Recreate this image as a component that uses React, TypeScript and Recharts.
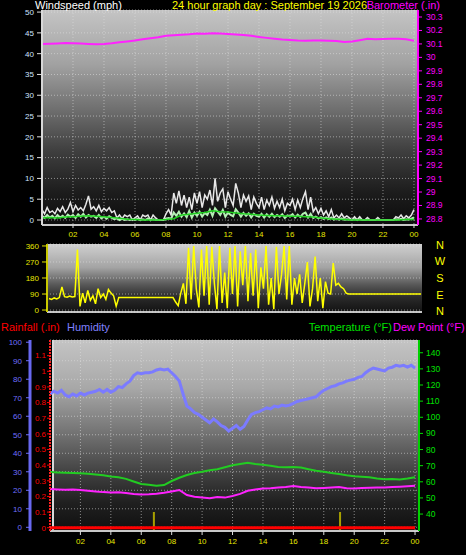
import React from 'react';
import { LineChart, Line, XAxis, YAxis, CartesianGrid } from 'recharts';

// wind, 10 minute samples (mph)
const windGust = [
  2.5, 1.5, 3, 1.8, 2.2, 1.5,
  2.8, 2, 3.2, 1.8, 2.6, 4.2,
  2, 3.5, 2.4, 3, 2.2, 3.8,
  5.8, 2.6, 3.2, 2.2, 3.5, 2,
  2.8, 2.2, 3, 1.8, 2.2, 0.5,
  1.2, 0.3, 1.2, 0.8, 1.2, 0,
  0.5, 1, 0, 1.2, 0.8, 1.2,
  0, 1.2, 0.5, 0, 0, 0,
  1.5, 2.5, 1.2, 6.5, 4, 7,
  3.5, 6, 3, 5.5, 2.5, 6.5,
  4, 6.8, 3, 6, 5, 7.2,
  3.5, 10, 4.5, 6.5, 7.5, 3,
  6.8, 5, 3.5, 8.8, 6.5, 3,
  6, 4.5, 5.8, 2.5, 5.5, 4,
  3, 5.5, 2.5, 4.8, 3.5, 5.5,
  2.8, 4.5, 3, 5, 2.2, 4,
  3.5, 5, 2.5, 4.8, 3, 5.2,
  6.8, 2.5, 5.5, 2, 3, 1.5,
  2.8, 1.2, 2.2, 0.8, 2.5, 0.5,
  1.2, 0.5, 1.5, 0.5, 1, 0.5,
  0, 0.8, 0, 0.8, 0, 0,
  0.6, 0, 0, 0, 0.6, 0,
  0, 0, 0, 0, 0, 0.8,
  0.5, 1.2, 0.3, 1, 0.5, 1.2, 2.5,
];
const windSpeed = [
  1, 0.5, 1.2, 0.6, 1, 0.4,
  1.2, 0.6, 1, 0.5, 1.3, 0.8,
  1.2, 0.5, 1.4, 0.8, 1.5, 0.6,
  1.2, 0.8, 1, 0.5, 1.2, 0.4,
  0.8, 0.3, 0.9, 0.5, 0.2, 0.4,
  0, 0.3, 0, 0.2, 0, 0.2,
  0, 0.3, 0, 0.2, 0, 0.4,
  0, 0.2, 0, 0, 0, 0,
  0.3, 0.5, 0.3, 1.8, 1, 2,
  0.8, 1.6, 0.7, 2.2, 0.6, 1.8,
  1, 2, 0.8, 1.7, 1.2, 2.5,
  1, 2.8, 2, 1.2, 2.4, 0.8,
  1.8, 1.2, 0.9, 2.6, 1.8, 0.8,
  1.7, 1, 1.6, 0.6, 1.5, 1,
  0.8, 1.5, 0.6, 1.4, 0.8, 1.5,
  0.7, 1.2, 0.8, 1.4, 0.5, 1.1,
  0.9, 1.4, 0.6, 1.3, 0.7, 1.5,
  1.8, 0.6, 1.5, 0.5, 0.8, 0.4,
  0.7, 0.3, 0.6, 0.2, 0.6, 0.1,
  0.3, 0.1, 0.4, 0.1, 0.2, 0.1,
  0, 0.2, 0, 0.2, 0, 0,
  0.1, 0, 0, 0, 0.1, 0,
  0, 0, 0, 0, 0, 0.2,
  0.1, 0.3, 0, 0.2, 0.1, 0.3, 0.6,
];
// 30 minute samples
const windAvg = [
  0.5, 0.6, 0.5, 0.7, 0.8, 0.9, 1.0, 0.9, 0.8, 0.6,
  0.4, 0.2, 0.1, 0, 0, 0, 0.1, 0.3,
  1.2, 1.4, 1.6, 1.8, 2.2, 2.0, 1.9, 1.7,
  1.5, 1.4, 1.2, 1.1, 1.0, 1.0, 0.9, 0.9,
  0.8, 0.7, 0.5, 0.3, 0.2, 0.1, 0, 0,
  0, 0, 0, 0, 0, 0.1, 0.1,
];
const barometer = [
  30.100, 30.102, 30.104, 30.106, 30.105, 30.103, 30.100, 30.098, 30.100, 30.105,
  30.112, 30.118, 30.125, 30.135, 30.142, 30.150, 30.160, 30.165, 30.168, 30.172,
  30.178, 30.176, 30.180, 30.178, 30.174, 30.170, 30.166, 30.160, 30.152, 30.145,
  30.138, 30.132, 30.130, 30.126, 30.124, 30.126, 30.125, 30.124, 30.122, 30.114,
  30.118, 30.128, 30.138, 30.135, 30.136, 30.138, 30.138, 30.134, 30.124,
];

// wind direction, 10 minute samples (degrees)
const windDir = [
  65, 60, 68, 62, 70, 130,
  75, 72, 78, 74, 76, 340,
  20, 95, 40, 110, 55, 80,
  35, 120, 70, 90, 60, 115,
  95, 80, 22, 70, 70, 70,
  70, 70, 70, 70, 70, 70,
  70, 70, 70, 70, 70, 70,
  70, 70, 70, 70, 70, 70,
  70, 45, 25, 95, 150, 35,
  350, 60, 360, 120, 15, 340,
  80, 360, 30, 355, 150, 5,
  360, 40, 210, 10, 350, 90,
  360, 20, 330, 140, 360, 50,
  320, 80, 340, 10, 240, 120,
  360, 30, 180, 5, 355, 90,
  200, 360, 60, 360, 30, 180,
  90, 200, 40, 150, 270, 20,
  120, 300, 50, 180, 10, 160,
  95, 90, 264, 140, 150, 130,
  120, 95, 90, 90, 90, 90,
  90, 90, 90, 90, 90, 90,
  90, 90, 90, 90, 90, 90,
  90, 90, 90, 90, 90, 90,
  90, 90, 90, 90, 90, 90, 90,
];

// humidity, 15 minute samples (%)
const humidity = [
  72, 73.5, 72.5, 74, 71.5, 70.5, 72, 71,
  72.5, 71.5, 72.5, 73, 73.5, 74.5, 73, 74.5,
  73, 74, 76, 75.5, 77.5, 79, 82, 83.5,
  83, 83.5, 83.5, 84, 85, 85.5, 85, 85.5,
  83.5, 81.5, 79, 72, 65.5, 64, 62, 61,
  59.5, 58, 56.5, 58.5, 57, 55, 54, 52,
  53.5, 55, 53, 54.5, 58, 61, 62, 62.5,
  63.5, 64.5, 64, 65.5, 65, 66, 65.5, 66,
  67, 68, 68.5, 69, 69.5, 70, 70.5, 72.5,
  74, 75, 76, 76.5, 77.5, 78, 79, 79.5,
  80, 81, 81.5, 83.5, 85, 86, 85.5, 85,
  84.5, 86, 86.5, 87.5, 87, 87.5, 86.5, 87.5,
  86,
];
// temperature and dew point, 30 minute samples (F)
const temperature = [
  66, 65.8, 65.6, 65.5, 65.3, 65, 64.5, 64, 63.3, 62.8,
  61.8, 60.2, 58.6, 58.2, 57.6, 58, 60.5, 62.5, 64.2, 65.5,
  66.2, 67.2, 67.8, 69, 70.2, 71, 71.8, 71, 70.5, 70,
  69.2, 69, 69.2, 68.8, 67.8, 66.8, 66.2, 65.5, 64.8, 64,
  63.5, 63.2, 62.8, 62, 61.6, 61.8, 61.5, 62, 62.8,
];
const dewPoint = [
  55.5, 55.2, 55, 55.2, 54.9, 54.4, 54, 53.6, 53.4, 53.5,
  53, 52.5, 52.2, 52.3, 52.6, 53.2, 54, 54.9, 51.8, 50.8,
  50.3, 49.8, 50.6, 50.2, 51.2, 52.5, 54.4, 55.2, 55.9, 56,
  56.4, 56.8, 57.4, 56.8, 56.5, 56, 56.2, 56.5, 56.8, 56,
  55.9, 56.2, 56.3, 56.5, 56.5, 56.8, 57, 57.2, 57.5,
];
const rainTimes = [0, 24];
const rainfall = [0, 0];
const rainMarkTimes = [6.83, 19.07];
const rainMarkValues = [0.1, 0.1];

const hourTicks = [2, 4, 6, 8, 10, 12, 14, 16, 18, 20, 22, 24];
const windTicks = [0, 5, 10, 15, 20, 25, 30, 35, 40, 45, 50];
const baroTicks = [28.8, 28.9, 29, 29.1, 29.2, 29.3, 29.4, 29.5, 29.6, 29.7, 29.8, 29.9, 30, 30.1, 30.2, 30.3];
const dirTicks = [0, 90, 180, 270, 360];
const humTicks = [0, 10, 20, 30, 40, 50, 60, 70, 80, 90, 100];
const rainTicks = [0, 0.1, 0.2, 0.3, 0.4, 0.5, 0.6, 0.7, 0.8, 0.9, 1, 1.1];
const tempTicks = [40, 50, 60, 70, 80, 90, 100, 110, 120, 130, 140];

const RAIN_FLOOR = -0.021;

const windRows = windGust.map((g, i) => ({
  t: i / 6,
  gust: g,
  speed: windSpeed[i],
  avg: i % 3 === 0 ? windAvg[i / 3] : undefined,
  baro: i % 3 === 0 ? barometer[i / 3] : undefined,
}));

const dirRows = windDir.map((d, i) => ({ t: i / 6, dir: d }));

const climateRows: any[] = [
  ...humidity.map((h, i) => ({
    t: i / 4,
    hum: h,
    temp: i % 2 === 0 ? temperature[i / 2] : undefined,
    dew: i % 2 === 0 ? dewPoint[i / 2] : undefined,
  })),
  ...rainTimes.map((t, i) => ({ t, rain: rainfall[i] })),
  ...rainMarkTimes.flatMap((t, i) => [
    { t, mark: rainMarkValues[i] },
    { t, mark: RAIN_FLOOR },
    { t, mark: null },
  ]),
];

const FONT = '"Liberation Sans", Arial, sans-serif';
const fmtHour = (v: number) => String(v % 24).padStart(2, '0');
const fmt1 = (v: number) => String(Number(v.toFixed(1)));
const gridStroke = 'rgba(225,225,225,0.55)';

// axis ids: the one nearest the plot sorts first
const RAIN_AXIS = 'a-rain';
const HUM_AXIS = 'b-hum';

const panel = (left: number, top: number, width: number, height: number, bg: string): React.CSSProperties => ({
  position: 'absolute', left, top, width, height, background: bg,
});

export default function App() {
  return (
    <div style={{ position: 'absolute', left: 0, top: 0, width: 466, height: 555, background: '#000', overflow: 'hidden', fontFamily: FONT }}>
      <div style={panel(42, 10, 376, 215, 'linear-gradient(#c4c4c4 0%, #a2a2a2 25%, #727272 45%, #404040 65%, #1c1c1c 85%, #0c0c0c 100%)')} />
      <div style={{ ...panel(47, 244, 375, 67, 'linear-gradient(#d0d0d0 0%, #a4a4a4 35%, #5a5a5a 60%, #2a2a2a 80%, #141414 100%)'), borderBottom: '2px solid #c4c4c4' }} />
      <div style={{ ...panel(52, 340, 367, 191, 'linear-gradient(#c4c4c4 0%, #a8a8a8 25%, #707070 50%, #404040 70%, #202020 85%, #101010 100%)'), boxSizing: 'border-box', borderLeft: '2px solid #d8d8d8' }} />

      <div style={{ position: 'absolute', left: 0, top: 0 }}>
        <LineChart width={466} height={245} data={windRows} margin={{ top: 10, right: 0, bottom: 0, left: 0 }}>
          <CartesianGrid yAxisId="wind" stroke={gridStroke} strokeDasharray="1 2" />
          <XAxis dataKey="t" type="number" domain={[0, 24.26]} ticks={hourTicks} allowDataOverflow height={20}
            tick={{ fill: '#e6e600', fontSize: 8 }} tickSize={3} tickMargin={3} tickLine={{ stroke: '#e0e0e0' }}
            axisLine={{ stroke: '#c8c8c8', strokeWidth: 2 }} tickFormatter={fmtHour} interval={0} />
          <YAxis yAxisId="wind" type="number" domain={[-1.2, 50.5]} ticks={windTicks} allowDataOverflow width={42}
            tick={{ fill: '#cfe3ff', fontSize: 8 }} tickSize={5} tickMargin={3} tickLine={{ stroke: '#e0e0e0' }}
            axisLine={{ stroke: '#d8d8d8', strokeWidth: 2 }} interval={0} />
          <YAxis yAxisId="baro" orientation="right" type="number" domain={[28.755, 30.352]} ticks={baroTicks} allowDataOverflow width={48}
            tick={{ fill: '#ff00ff', fontSize: 8.5 }} tickSize={4} tickMargin={4} tickLine={{ stroke: '#ff00ff' }}
            axisLine={{ stroke: '#ff00ff', strokeWidth: 2 }} tickFormatter={fmt1} interval={0} />
          <Line yAxisId="wind" dataKey="gust" type="linear" stroke="#e8e8e8" strokeWidth={1.5} dot={false} isAnimationActive={false} />
          <Line yAxisId="wind" dataKey="speed" type="linear" stroke="#b4f0b4" strokeWidth={2} dot={false} isAnimationActive={false} />
          <Line yAxisId="wind" dataKey="avg" type="linear" stroke="#20d020" strokeWidth={1.5} dot={false} connectNulls isAnimationActive={false} />
          <Line yAxisId="baro" dataKey="baro" type="linear" stroke="#ff22ff" strokeWidth={2} dot={false} connectNulls isAnimationActive={false} />
        </LineChart>
      </div>

      <div style={{ position: 'absolute', left: 0, top: 238 }}>
        <LineChart width={466} height={80} data={dirRows} margin={{ top: 6, right: 44, bottom: 6, left: 0 }}>
          <CartesianGrid yAxisId="dir" stroke={gridStroke} strokeDasharray="1 2" vertical={false} />
          <XAxis dataKey="t" type="number" domain={[-0.13, 24.06]} allowDataOverflow hide />
          <YAxis yAxisId="dir" type="number" domain={[-11, 371]} ticks={dirTicks} allowDataOverflow width={47}
            tick={{ fill: '#e6e600', fontSize: 8 }} tickSize={5} tickMargin={3} tickLine={{ stroke: '#e6e600' }}
            axisLine={{ stroke: '#c8c800', strokeWidth: 2 }} interval={0} />
          <Line yAxisId="dir" dataKey="dir" type="linear" stroke="#ffff00" strokeWidth={1.5} dot={false} isAnimationActive={false} />
        </LineChart>
      </div>

      <div style={{ position: 'absolute', left: 0, top: 330 }}>
        <LineChart width={466} height={225} data={climateRows} margin={{ top: 10, right: 0, bottom: 0, left: 0 }}>
          <CartesianGrid yAxisId={HUM_AXIS} stroke={gridStroke} strokeDasharray="1 2" />
          <XAxis dataKey="t" type="number" domain={[0, 24.26]} ticks={hourTicks} allowDataOverflow height={24}
            tick={{ fill: '#e6e600', fontSize: 8 }} tickSize={4} tickMargin={3} tickLine={{ stroke: '#e0e0e0' }}
            axisLine={{ stroke: '#c8c8c8', strokeWidth: 2 }} tickFormatter={fmtHour} interval={0} />
          <YAxis yAxisId={RAIN_AXIS} type="number" domain={[RAIN_FLOOR, 1.2]} ticks={rainTicks} allowDataOverflow width={20}
            tick={{ fill: '#ff0000', fontSize: 8 }} tickSize={3} tickMargin={1} tickLine={{ stroke: '#ff0000' }}
            axisLine={{ stroke: '#ff2020', strokeWidth: 2, strokeDasharray: '2 1' }} tickFormatter={fmt1} interval={0} />
          <YAxis yAxisId={HUM_AXIS} type="number" domain={[-2, 101.2]} ticks={humTicks} allowDataOverflow width={30}
            tick={{ fill: '#6f6fff', fontSize: 8 }} tickSize={4} tickMargin={4} tickLine={{ stroke: '#6f6fff' }}
            axisLine={{ stroke: '#6868f0', strokeWidth: 3 }} interval={0} />
          <YAxis yAxisId="temp" orientation="right" type="number" domain={[29.5, 147.9]} ticks={tempTicks} allowDataOverflow width={47}
            tick={{ fill: '#00e000', fontSize: 8.5 }} tickSize={4} tickMargin={3} tickLine={{ stroke: '#00e000' }}
            axisLine={{ stroke: '#00d000', strokeWidth: 2 }} interval={0} />
          <Line yAxisId={HUM_AXIS} dataKey="hum" type="linear" stroke="#7b7bff" strokeWidth={3} dot={false} isAnimationActive={false} />
          <Line yAxisId="temp" dataKey="temp" type="linear" stroke="#22cc22" strokeWidth={2} dot={false} connectNulls isAnimationActive={false} />
          <Line yAxisId="temp" dataKey="dew" type="linear" stroke="#ff22ff" strokeWidth={2} dot={false} connectNulls isAnimationActive={false} />
          <Line yAxisId={RAIN_AXIS} dataKey="mark" type="linear" stroke="#a8a000" strokeWidth={2} dot={false} isAnimationActive={false} />
          <Line yAxisId={RAIN_AXIS} dataKey="rain" type="linear" stroke="#ff0000" strokeWidth={3} dot={false} isAnimationActive={false} />
        </LineChart>
      </div>

      <svg width={466} height={555} style={{ position: 'absolute', left: 0, top: 0, pointerEvents: 'none' }} fontFamily={FONT} fontSize={11}>
        <text x={35} y={9} fill="#ffffff">Windspeed (mph)</text>
        <text x={172} y={9} fill="#ffff00">24 hour graph day : September 19 2026</text>
        <text x={440} y={9} fill="#ff00ff" textAnchor="end">Barometer (.in)</text>
        <text x={440} y={249} fill="#ffff00" textAnchor="middle">N</text>
        <text x={440} y={265} fill="#ffff00" textAnchor="middle">W</text>
        <text x={440} y={282} fill="#ffff00" textAnchor="middle">S</text>
        <text x={440} y={299} fill="#ffff00" textAnchor="middle">E</text>
        <text x={440} y={315} fill="#ffff00" textAnchor="middle">N</text>
        <text x={1} y={331} fill="#ff0000">Rainfall (.in)</text>
        <text x={67} y={331} fill="#8080ff">Humidity</text>
        <text x={392} y={331} fill="#00e000" textAnchor="end">Temperature (°F)</text>
        <text x={393} y={331} fill="#ff00ff">Dew Point (°F)</text>
      </svg>
    </div>
  );
}
